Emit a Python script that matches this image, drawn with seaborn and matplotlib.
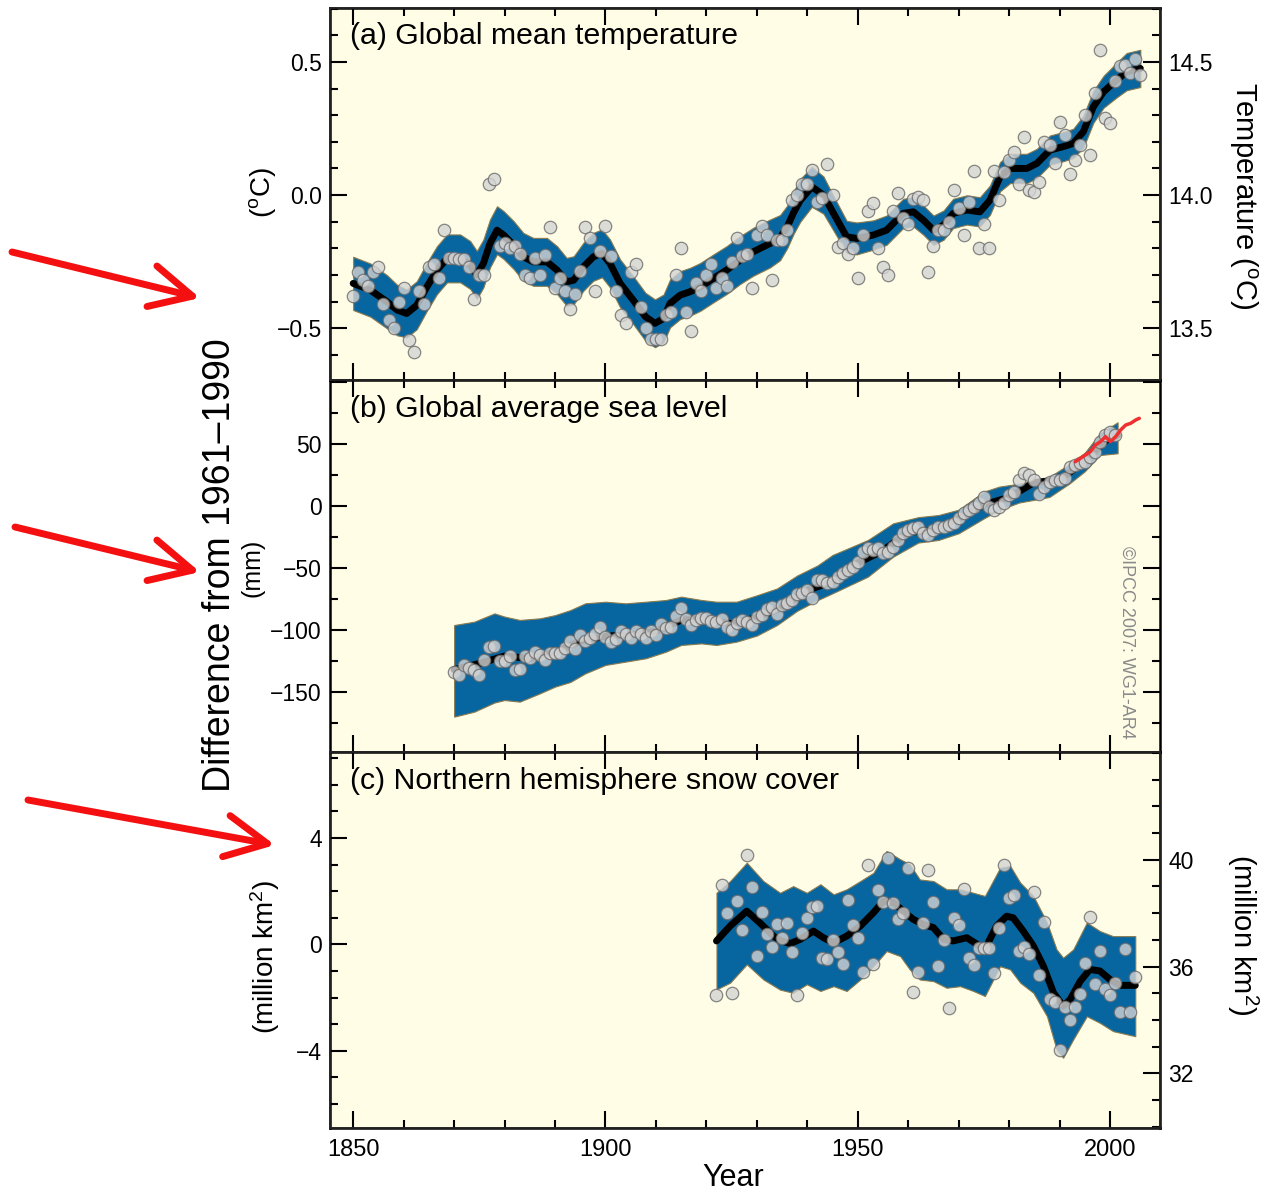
import numpy as np
import pandas as pd
import matplotlib.pyplot as plt
import seaborn as sns
from matplotlib.ticker import MultipleLocator, FixedLocator, FuncFormatter
from matplotlib.patches import FancyArrowPatch

# --- data ---

# (a) global mean temperature, annual anomaly (deg C), 1850-2006
temp_years = list(range(1850, 2007))
temp_anom = [
    -0.38, -0.29, -0.32, -0.34, -0.29, -0.27, -0.41, -0.47, -0.50, -0.40,
    -0.35, -0.545, -0.59, -0.36, -0.41, -0.27, -0.26, -0.31, -0.13, -0.235,
    -0.235, -0.24, -0.24, -0.27, -0.39, -0.30, -0.30, 0.04, 0.06, -0.19,
    -0.18, -0.20, -0.19, -0.22, -0.30, -0.31, -0.235, -0.30, -0.225, -0.12,
    -0.35, -0.31, -0.36, -0.43, -0.37, -0.285, -0.12, -0.16, -0.36, -0.21,
    -0.115, -0.23, -0.36, -0.45, -0.48, -0.29, -0.26, -0.42, -0.50, -0.54,
    -0.54, -0.54, -0.45, -0.44, -0.30, -0.20, -0.44, -0.51, -0.33, -0.36,
    -0.30, -0.26, -0.35, -0.31, -0.34, -0.25, -0.16, -0.23, -0.22, -0.35,
    -0.15, -0.115, -0.15, -0.32, -0.17, -0.17, -0.13, -0.02, 0.0, 0.04,
    0.04, 0.095, -0.025, -0.01, 0.115, 0.0, -0.195, -0.18, -0.22, -0.20,
    -0.31, -0.15, -0.06, -0.03, -0.20, -0.27, -0.30, -0.06, 0.006, -0.085,
    -0.11, -0.015, -0.006, -0.02, -0.29, -0.19, -0.13, -0.13, -0.10, 0.02,
    -0.05, -0.15, -0.025, 0.09, -0.20, -0.11, -0.20, 0.09, -0.02, 0.085,
    0.13, 0.16, 0.04, 0.22, 0.02, 0.01, 0.05, 0.20, 0.19, 0.12,
    0.275, 0.225, 0.08, 0.13, 0.19, 0.30, 0.15, 0.385, 0.545, 0.29,
    0.27, 0.43, 0.485, 0.49, 0.46, 0.51, 0.45,
]
temp_smooth_years = [
    1850, 1853.4, 1856.7, 1858.7, 1860.6, 1862.6, 1864.6, 1866.6, 1868.6, 1871.2,
    1873.2, 1874.5, 1875.8, 1877.1, 1878.5, 1879.8, 1881.8, 1883.7, 1885.7, 1888.4,
    1890.4, 1892.3, 1893.7, 1895.6, 1897.6, 1899.3, 1900.9, 1902.9, 1905.5, 1907.9,
    1909.8, 1911.5, 1912.8, 1914.8, 1916.8, 1918.8, 1921.4, 1924.0, 1926.7, 1929.3,
    1932.6, 1934.6, 1936.0, 1937.3, 1938.6, 1940.9, 1943.2, 1945.2, 1947.8, 1949.8,
    1953.1, 1955.7, 1959.0, 1961.0, 1963.0, 1965.0, 1967.0, 1968.9, 1971.6, 1974.2,
    1976.2, 1978.2, 1980.2, 1983.5, 1985.5, 1988.1, 1990.7, 1992.7, 1994.7, 1996.7,
    1998.7, 2001.3, 2003.3, 2006,
]
temp_smooth = [
    -0.332, -0.357, -0.401, -0.432, -0.445, -0.414, -0.345, -0.282, -0.238, -0.238,
    -0.263, -0.300, -0.257, -0.182, -0.132, -0.150, -0.188, -0.232, -0.251, -0.251,
    -0.282, -0.326, -0.320, -0.270, -0.232, -0.219, -0.257, -0.332, -0.395, -0.457,
    -0.482, -0.464, -0.407, -0.376, -0.363, -0.345, -0.313, -0.282, -0.244, -0.213,
    -0.182, -0.160, -0.120, -0.065, -0.020, 0.031, 0.0, -0.069, -0.157, -0.163,
    -0.150, -0.132, -0.069, -0.063, -0.094, -0.132, -0.113, -0.069, -0.056, -0.063,
    -0.019, 0.069, 0.100, 0.100, 0.119, 0.169, 0.182, 0.194, 0.238, 0.332,
    0.388, 0.432, 0.464, 0.476,
]
temp_halfwidth = [
    0.10, 0.10, 0.10, 0.095, 0.09, 0.09, 0.09, 0.09, 0.09, 0.09,
    0.09, 0.09, 0.09, 0.09, 0.09, 0.09, 0.09, 0.09, 0.09, 0.09,
    0.09, 0.09, 0.09, 0.09, 0.09, 0.09, 0.09, 0.09, 0.09, 0.09,
    0.09, 0.09, 0.09, 0.09, 0.09, 0.09, 0.09, 0.09, 0.09, 0.09,
    0.09, 0.085, 0.08, 0.08, 0.08, 0.075, 0.07, 0.065, 0.06, 0.06,
    0.055, 0.055, 0.055, 0.055, 0.055, 0.055, 0.055, 0.055, 0.055, 0.055,
    0.055, 0.055, 0.055, 0.055, 0.055, 0.055, 0.055, 0.055, 0.06, 0.06,
    0.06, 0.065, 0.07, 0.07,
]

# (b) global average sea level (mm), tide gauges 1870-2001
sea_years = list(range(1870, 2002))
sea_level = [
    -133.6, -136.3, -128.2, -130.9, -132.3, -136.3, -124.2, -113.4, -112.6, -125.0,
    -125.0, -121.0, -132.3, -131.7, -121.0, -122.8, -117.5, -120.2, -124.2, -118.8,
    -118.3, -118.3, -114.2, -108.6, -115.6, -104.3, -108.9, -106.2, -103.2, -97.3,
    -105.4, -109.4, -107.5, -100.5, -103.2, -106.2, -100.5, -103.2, -106.2, -100.5,
    -104.0, -95.4, -98.4, -97.3, -88.7, -82.5, -91.1, -96.0, -91.9, -90.6,
    -90.6, -92.5, -93.3, -91.1, -97.8, -100.0, -94.1, -91.9, -93.3, -96.0,
    -89.8, -87.9, -83.3, -81.7, -87.4, -79.8, -78.0, -75.8, -71.0, -70.4,
    -67.7, -74.5, -59.7, -59.7, -62.4, -61.0, -57.0, -54.3, -51.6, -48.9,
    -44.9, -36.8, -34.1, -35.5, -34.1, -38.2, -36.8, -32.8, -27.4, -22.0,
    -19.4, -18.0, -16.7, -21.5, -23.4, -19.4, -16.7, -16.7, -15.3, -14.0,
    -9.9, -5.9, -3.2, -0.5, 2.2, 7.5, -0.5, -3.0, -0.5, 2.2,
    8.9, 11.6, 21.0, 26.3, 25.0, 21.0, 10.0, 15.6, 19.6, 21.0,
    21.0, 22.3, 31.7, 33.1, 34.4, 35.7, 39.8, 43.8, 51.9, 57.3,
    59.9, 57.3,
]
sea_smooth_years = [1870, 1875, 1880, 1885, 1890, 1895, 1900, 1905, 1910, 1915,
                    1920, 1925, 1930, 1935, 1940, 1945, 1950, 1955, 1960, 1965,
                    1970, 1975, 1980, 1985, 1990, 1995, 2000, 2001.5]
sea_smooth = [-132, -127, -121, -123, -118, -109, -105, -104, -101, -92,
              -91, -95, -90, -82, -68, -61, -46, -36, -21, -20,
              -10, 1, 7, 19, 21, 36, 56, 57]
sea_band_years = [1870, 1874, 1878, 1880, 1883, 1887, 1890, 1893, 1896, 1900,
                  1904, 1908, 1912, 1915, 1919, 1922, 1926, 1930, 1934, 1938,
                  1942, 1945, 1952, 1957, 1962, 1966, 1970, 1975, 1978, 1982,
                  1985, 1988, 1992, 1995, 1998, 2001.5]
sea_band_hi = [-96.0, -93.3, -86.6, -89.2, -91.9, -90.6, -88.0, -84.0, -78.5, -77.2,
               -78.5, -77.2, -75.8, -73.1, -75.8, -77.2, -77.2, -72.0, -66.5, -56.0,
               -48.0, -39.5, -27.4, -14.0, -9.0, -7.3, -3.0, 11.6, 15.6, 18.0,
               20.5, 23.5, 34.0, 43.0, 58.6, 67.5]
sea_band_lo = [-169.9, -165.9, -158.5, -156.5, -157.8, -151.1, -145.7, -142.0, -135.0, -128.2,
               -125.5, -122.8, -117.5, -112.1, -110.8, -112.1, -109.4, -104.5, -96.0, -84.5,
               -76.0, -70.4, -57.0, -40.9, -29.5, -27.4, -22.0, -10.0, -3.2, 2.8,
               5.0, 7.3, 18.3, 28.0, 41.1, 42.5]
# satellite altimetry (red)
sat_years = [1993.1, 1994.1, 1995.1, 1996.1, 1997.1, 1998.1, 1999.1, 2000.1,
             2001.1, 2002.1, 2003.1, 2004.1, 2005.1, 2005.8]
sat_level = [35.7, 38.4, 41.1, 43.8, 49.2, 51.9, 55.9, 51.9,
             55.9, 61.3, 65.3, 66.7, 69.4, 70.7]

# (c) northern hemisphere snow cover (million km2), 1922-2005
snow_years = list(range(1922, 2006))
snow_anom = [
    -1.90, 2.22, 1.19, -1.84, 1.63, 0.53, 3.35, 2.17, -0.44, 1.23,
    0.38, -0.10, 0.78, 0.25, 0.79, -0.27, -1.90, 0.44, 1.00, 1.42,
    1.44, -0.53, -0.54, 0.16, -0.29, -0.73, 1.67, 0.73, 0.23, -1.03,
    2.98, -0.75, 2.04, 1.60, 3.26, 1.54, 0.94, 1.19, 2.86, -1.78,
    -1.03, 0.79, 2.79, 1.60, -0.82, 0.16, -2.38, 1.00, 0.73, 2.09,
    -0.53, -0.79, -0.13, -0.13, -0.13, -1.07, 0.60, 2.98, 1.75, 1.85,
    -0.23, -0.09, -0.35, 1.98, -1.15, 0.85, -2.04, -2.15, -3.97, -2.34,
    -2.85, -2.34, -1.88, -0.71, 1.04, -1.50, -0.25, -1.69, -1.90, -1.44,
    -2.53, -0.16, -2.53, -1.21,
]
snow_smooth_years = [1922, 1924.7, 1928.0, 1930.6, 1933.3, 1934.6, 1936.6, 1938.6, 1941.2, 1943.2,
                     1945.2, 1947.8, 1950.5, 1953.1, 1955.1, 1957.1, 1959.0, 1961.0, 1963.0, 1965.0,
                     1967.0, 1968.9, 1971.6, 1974.2, 1975.5, 1977.5, 1979.5, 1980.8, 1982.8, 1984.8,
                     1986.8, 1988.8, 1990.7, 1992.1, 1994.1, 1996.0, 1998.0, 2000.0, 2002.0, 2005.0]
snow_smooth = [0.13, 0.69, 1.25, 0.81, 0.31, 0.15, 0.03, 0.19, 0.50, 0.25,
               0.06, 0.31, 0.69, 1.19, 1.63, 1.57, 1.25, 0.94, 0.75, 0.63,
               0.19, 0.13, 0.25, -0.06, -0.06, 0.69, 1.06, 1.00, 0.50, -0.06,
               -0.82, -1.82, -2.32, -2.07, -1.38, -0.94, -1.00, -1.32, -1.54, -1.54]
snow_band_years = [1922, 1924.7, 1928, 1931.3, 1934.6, 1937.2, 1939.9, 1942.6, 1945.2, 1947.8,
                   1950.5, 1953.1, 1955.7, 1958.4, 1960.3, 1962.3, 1965.0, 1967.6, 1970.3, 1972.9,
                   1975.2, 1978.2, 1980.2, 1982.2, 1984.8, 1987.5, 1989.4, 1990.7, 1992.7, 1995.4,
                   1998.0, 2000.6, 2005]
snow_band_hi = [1.94, 2.38, 3.07, 2.38, 1.94, 2.19, 1.94, 2.26, 1.88, 2.07,
                2.38, 2.69, 3.51, 3.20, 3.01, 2.44, 2.38, 2.07, 2.07, 1.94,
                1.82, 2.88, 2.95, 2.32, 1.82, 0.82, -0.19, -0.50, -0.19, 0.82,
                0.50, 0.31, 0.31]
snow_band_lo = [-1.69, -1.44, -0.75, -1.32, -1.70, -1.82, -1.50, -1.75, -1.57, -1.75,
                -1.32, -0.82, -0.25, -0.44, -0.94, -1.32, -1.38, -1.63, -1.57, -1.75,
                -1.94, -0.82, -0.94, -1.44, -1.82, -2.70, -3.95, -4.26, -3.57, -2.70,
                -2.95, -3.26, -3.45]

# --- style ---
sns.set_theme(style='ticks')
plt.rcParams['font.family'] = ['Liberation Sans', 'DejaVu Sans']
plt.rcParams['mathtext.fontset'] = 'custom'
plt.rcParams['mathtext.rm'] = 'Liberation Sans'
plt.rcParams['mathtext.it'] = 'Liberation Sans:italic'
plt.rcParams['axes.unicode_minus'] = True
plt.rcParams['text.color'] = 'black'
plt.rcParams['axes.labelcolor'] = 'black'

bg = '#fffde6'
band_blue = '#0766a0'
band_edge = '#8a7a50'
dot_face = '#d4d4d4'
dot_edge = '#6a6a6a'


def minus(fmt):
    return FuncFormatter(lambda v, p: format(v, fmt).replace('-', '\u2212'))


def style_axis(ax):
    for s in ax.spines.values():
        s.set_linewidth(1.8)
        s.set_color('black')
    ax.tick_params(which='both', direction='in', width=1.5, colors='black',
                   labelsize=16.5, top=True, bottom=True, pad=6)
    ax.tick_params(which='major', length=12)
    ax.tick_params(which='minor', length=6)
    ax.xaxis.set_major_locator(MultipleLocator(50))
    ax.xaxis.set_minor_locator(MultipleLocator(10))
    ax.set_xlim(1845.4, 2009.9)


def style_twin(ax):
    ax.tick_params(which='both', direction='in', width=1.5, colors='black',
                   labelsize=16.5, pad=6)
    ax.tick_params(which='major', length=12)
    ax.tick_params(which='minor', length=6)


def draw_panel(ax, band_x, lo, hi, sm_x, sm_y, pts_x, pts_y):
    ax.set_facecolor(bg)
    ax.fill_between(band_x, lo, hi, facecolor=band_blue, edgecolor=band_edge,
                    linewidth=0.8, zorder=2)
    sns.lineplot(x=sm_x, y=sm_y, ax=ax, color='black', linewidth=5,
                 estimator=None, zorder=3)
    sns.scatterplot(x=pts_x, y=pts_y, ax=ax, s=80, color=dot_face,
                    edgecolor=dot_edge, linewidth=0.9, alpha=0.8, zorder=4)
    ax.set_xlabel('')
    ax.set_ylabel('')


W, H = 1274, 1192
fig = plt.figure(figsize=(W / 100, H / 100), dpi=100)
left, width = 330 / W, 830 / W
ax_a = fig.add_axes([left, 1 - 380 / H, width, 372 / H])
ax_b = fig.add_axes([left, 1 - 752 / H, width, 372 / H])
ax_c = fig.add_axes([left, 1 - 1128 / H, width, 376 / H])

# (a)
t_lo = [s - h for s, h in zip(temp_smooth, temp_halfwidth)]
t_hi = [s + h for s, h in zip(temp_smooth, temp_halfwidth)]
draw_panel(ax_a, temp_smooth_years, t_lo, t_hi, temp_smooth_years, temp_smooth,
           temp_years, temp_anom)
style_axis(ax_a)
ax_a.set_ylim(-0.695, 0.703)
ax_a.yaxis.set_major_locator(FixedLocator([-0.5, 0.0, 0.5]))
ax_a.yaxis.set_minor_locator(MultipleLocator(0.1))
ax_a.yaxis.set_major_formatter(minus('.1f'))
ax_a.tick_params(which='both', right=False, labelbottom=False)
ax_a2 = ax_a.twinx()
ax_a2.set_ylim(13.305, 14.703)
ax_a2.yaxis.set_major_locator(FixedLocator([13.5, 14.0, 14.5]))
ax_a2.yaxis.set_minor_locator(MultipleLocator(0.1))
ax_a2.yaxis.set_major_formatter(minus('.1f'))
style_twin(ax_a2)
ax_a.text(0.024, 0.925, '(a) Global mean temperature', transform=ax_a.transAxes,
          fontsize=21.8, ha='left', va='center')

# (b)
draw_panel(ax_b, sea_band_years, sea_band_lo, sea_band_hi, sea_smooth_years, sea_smooth,
           sea_years, sea_level)
sns.lineplot(x=sat_years, y=sat_level, ax=ax_b, color='#ee3030', linewidth=2.5,
             estimator=None, zorder=5)
ax_b.set_xlabel('')
style_axis(ax_b)
ax_b.set_ylim(-198.4, 101.6)
ax_b.yaxis.set_major_locator(MultipleLocator(50))
ax_b.yaxis.set_minor_locator(MultipleLocator(25))
ax_b.yaxis.set_major_formatter(FuncFormatter(
    lambda v, p: '' if v > 60 or v < -160 else format(v, '.0f').replace('-', '\u2212')))
ax_b.tick_params(which='both', right=True, labelright=False, labelbottom=False)
ax_b.text(0.024, 0.922, '(b) Global average sea level', transform=ax_b.transAxes,
          fontsize=21.8, ha='left', va='center')

# (c)
draw_panel(ax_c, snow_band_years, snow_band_lo, snow_band_hi, snow_smooth_years, snow_smooth,
           snow_years, snow_anom)
style_axis(ax_c)
ax_c.set_ylim(-6.9, 7.23)
ax_c.yaxis.set_major_locator(FixedLocator([-4, 0, 4]))
ax_c.yaxis.set_minor_locator(MultipleLocator(1))
ax_c.yaxis.set_major_formatter(minus('.0f'))
ax_c.tick_params(which='both', right=False)
ax_c.xaxis.set_major_formatter(FuncFormatter(lambda v, p: f'{v:.0f}'))
ax_c.tick_params(axis='x', labelsize=17, pad=8)
ax_c2 = ax_c.twinx()
ax_c2.set_ylim(29.95, 44.04)
ax_c2.yaxis.set_major_locator(FixedLocator([32, 36, 40]))
ax_c2.yaxis.set_minor_locator(MultipleLocator(1))
style_twin(ax_c2)
ax_c.text(0.024, 0.923, '(c) Northern hemisphere snow cover', transform=ax_c.transAxes,
          fontsize=21.8, ha='left', va='center')

# labels
fig.text(733 / W, 1 - 1178 / H, 'Year', fontsize=22, ha='center', va='center')
fig.text(220 / W, 1 - 565 / H, 'Difference from 1961\u20131990', fontsize=27,
         rotation=90, ha='center', va='center')
fig.text(262 / W, 1 - 193 / H, r'($^{\rm o}$C)', fontsize=20, rotation=90, ha='center', va='center')
fig.text(252 / W, 1 - 568 / H, '(mm)', fontsize=18, rotation=90, ha='center', va='center')
fig.text(265 / W, 1 - 957 / H, r'(million km$^2$)', fontsize=20, rotation=90, ha='center', va='center')
fig.text(1243 / W, 1 - 196 / H, r'Temperature ($^{\rm o}$C)', fontsize=21, rotation=270,
         ha='center', va='center')
fig.text(1243 / W, 1 - 935 / H, r'(million km$^2$)', fontsize=21, rotation=270,
         ha='center', va='center')
fig.text(1127 / W, 1 - 642 / H, '\u00a9IPCC 2007: WG1-AR4', fontsize=13, rotation=270,
         ha='center', va='center', color='#8a8a8a')

# red arrows
arrows = [((12, 252), (200, 298)), ((15, 527), (200, 572)), ((28, 800), (275, 845))]
for (x0, y0), (x1, y1) in arrows:
    fig.add_artist(FancyArrowPatch((x0 / W, 1 - y0 / H), (x1 / W, 1 - y1 / H),
                                   transform=fig.transFigure,
                                   arrowstyle='->,head_length=1.0,head_width=0.5',
                                   mutation_scale=30, lw=5, color='#f41010',
                                   shrinkA=0, shrinkB=0))

fig.savefig('out.png', dpi=100, facecolor='white')
